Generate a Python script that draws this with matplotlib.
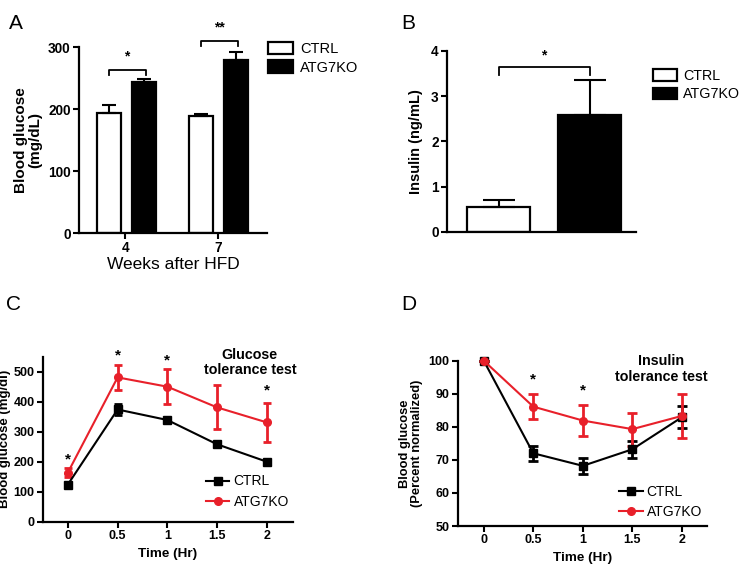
import numpy as np
import matplotlib
matplotlib.use("Agg")
import matplotlib.pyplot as plt
from matplotlib.lines import Line2D

plt.rcParams["font.family"] = ["Liberation Sans", "DejaVu Sans"]

# Panel A: blood glucose after HFD
weeks = ["4", "7"]
a_ctrl = [194, 189]
a_ctrl_err = [12, 4]
a_ko = [244, 279]
a_ko_err = [4, 13]
a_sig = ["*", "**"]
a_bracket_y = [264, 310]

# Panel B: insulin
b_vals = [0.56, 2.57]
b_err = [0.15, 0.78]
b_bracket_y = 3.63

# Panel C: glucose tolerance test
times = [0, 0.5, 1, 1.5, 2]
c_ctrl = [124, 374, 339, 258, 200]
c_ctrl_err = [5, 17, 5, 4, 3]
c_ko = [164, 481, 450, 381, 331]
c_ko_err = [14, 42, 58, 73, 65]
c_star_y = [209, 555, 539, None, 436]

# Panel D: insulin tolerance test
d_ctrl = [100, 72.0, 68.2, 73.2, 82.9]
d_ctrl_err = [0, 2.3, 2.4, 2.5, 3.4]
d_ko = [100, 86.1, 81.9, 79.3, 83.3]
d_ko_err = [0, 3.8, 4.6, 5.0, 6.7]
d_star_y = [None, 94.4, 91.1, None, None]

RED = "#e8202a"

fig = plt.figure(figsize=(7.43, 5.65), dpi=100)

def style(ax, tsize):
    for s in ["top", "right"]:
        ax.spines[s].set_visible(False)
    for s in ["left", "bottom"]:
        ax.spines[s].set_linewidth(1.6)
    ax.tick_params(direction="out", length=4, width=1.5, labelsize=tsize, pad=2)
    for lab in ax.get_xticklabels() + ax.get_yticklabels():
        lab.set_fontweight("bold")

def line_legend(ax, anchor):
    h = [Line2D([], [], color="black", marker="s", ms=6, lw=1.5),
         Line2D([], [], color=RED, marker="o", ms=5.5, lw=1.5)]
    ax.legend(h, ["CTRL", "ATG7KO"], loc="lower left", bbox_to_anchor=anchor,
              frameon=False, fontsize=10, handlelength=1.7, handletextpad=0.3,
              labelspacing=0.45, borderaxespad=0)

# ---- A ----
axA = fig.add_axes([0.1063, 0.5876, 0.253, 0.3287])
x = np.arange(len(weeks))
w = 0.26
axA.bar(x - 0.18, a_ctrl, w, color="white", edgecolor="black", linewidth=1.6,
        yerr=[[0, 0], a_ctrl_err], capsize=4.7, error_kw=dict(elinewidth=1.5, capthick=1.5),
        label="CTRL")
axA.bar(x + 0.20, a_ko, w, color="black", edgecolor="black", linewidth=1.6,
        yerr=[[0, 0], a_ko_err], capsize=4.7, error_kw=dict(elinewidth=1.5, capthick=1.5),
        label="ATG7KO")
for i in range(len(weeks)):
    x0, x1 = x[i] - 0.18, x[i] + 0.22
    yb = a_bracket_y[i]
    axA.plot([x0, x0, x1, x1], [yb - 8, yb, yb, yb - 8], color="black", lw=1.3, clip_on=False)
    axA.text((x0 + x1) / 2, yb + 10, a_sig[i], ha="center", va="bottom",
             fontsize=10, fontweight="bold")
axA.set_xlim(-0.5, 1.53)
axA.set_ylim(0, 300)
axA.set_yticks([0, 100, 200, 300])
axA.set_xticks(x)
axA.set_xticklabels(weeks)
axA.set_ylabel("Blood glucose\n(mg/dL)", fontsize=11, fontweight="bold", labelpad=4,
               linespacing=1.0)
axA.set_xlabel("Weeks after HFD", fontsize=12.5, labelpad=1)
style(axA, 9.8)
axA.legend(loc="upper left", bbox_to_anchor=(0.975, 1.06), frameon=False, fontsize=10.5,
           handlelength=1.7, handleheight=0.9, handletextpad=0.5, labelspacing=0.3,
           borderaxespad=0)
fig.text(0.012, 0.975, "A", fontsize=15, va="top")

# ---- B ----
axB = fig.add_axes([0.6016, 0.5894, 0.2544, 0.3209])
xb = np.arange(2)
axB.bar(xb[0], b_vals[0], 0.69, color="white", edgecolor="black", linewidth=1.6,
        yerr=[[0], [b_err[0]]], capsize=11.5, error_kw=dict(elinewidth=1.5, capthick=1.5),
        label="CTRL")
axB.bar(xb[1], b_vals[1], 0.69, color="black", edgecolor="black", linewidth=1.6,
        yerr=[[0], [b_err[1]]], capsize=11.5, error_kw=dict(elinewidth=1.5, capthick=1.5),
        label="ATG7KO")
axB.plot([0, 0, 1, 1], [b_bracket_y - 0.17, b_bracket_y, b_bracket_y, b_bracket_y - 0.17],
         color="black", lw=1.3)
axB.text(0.5, b_bracket_y + 0.12, "*", ha="center", va="bottom", fontsize=10, fontweight="bold")
axB.set_xlim(-0.566, 1.51)
axB.set_ylim(0, 4)
axB.set_yticks([0, 1, 2, 3, 4])
axB.set_xticks([])
axB.set_ylabel("Insulin (ng/mL)", fontsize=10.5, fontweight="bold", labelpad=6)
style(axB, 9.8)
axB.legend(loc="upper left", bbox_to_anchor=(1.06, 0.93), frameon=False, fontsize=10.3,
           handlelength=1.7, handleheight=0.9, handletextpad=0.4, labelspacing=0.3,
           borderaxespad=0)
fig.text(0.540, 0.975, "B", fontsize=15, va="top")

# ---- C ----
axC = fig.add_axes([0.0579, 0.0766, 0.336, 0.2921])
axC.errorbar(times, c_ctrl, yerr=c_ctrl_err, color="black", marker="s", ms=6, lw=1.5,
             elinewidth=2, capsize=3, capthick=2, clip_on=False)
axC.errorbar(times, c_ko, yerr=c_ko_err, color=RED, marker="o", ms=5.5, lw=1.5,
             elinewidth=2, capsize=3, capthick=2, clip_on=False)
for t, sy in zip(times, c_star_y):
    if sy is not None:
        axC.text(t, sy, "*", ha="center", va="center", fontsize=11, fontweight="bold")
axC.text(1.83, 530, "Glucose\ntolerance test", ha="center", va="center", fontsize=10.3,
         fontweight="bold", linespacing=1.1)
axC.set_xlim(-0.25, 2.26)
axC.set_ylim(0, 550)
axC.set_yticks([0, 100, 200, 300, 400, 500])
axC.set_xticks(times)
axC.set_xticklabels(["0", "0.5", "1", "1.5", "2"])
axC.set_ylabel("Blood glucose (mg/dl)", fontsize=9.5, fontweight="bold", labelpad=2)
axC.set_xlabel("Time (Hr)", fontsize=9.7, fontweight="bold", labelpad=4)
style(axC, 9)
line_legend(axC, (0.63, 0.045))
fig.text(0.008, 0.478, "C", fontsize=15, va="top")

# ---- D ----
axD = fig.add_axes([0.6164, 0.069, 0.3347, 0.2926])
axD.errorbar(times, d_ctrl, yerr=d_ctrl_err, color="black", marker="s", ms=6, lw=1.5,
             elinewidth=2, capsize=3.5, capthick=2, clip_on=False)
axD.errorbar(times, d_ko, yerr=d_ko_err, color=RED, marker="o", ms=5.5, lw=1.5,
             elinewidth=2, capsize=3.5, capthick=2, clip_on=False)
for t, sy in zip(times, d_star_y):
    if sy is not None:
        axD.text(t, sy, "*", ha="center", va="center", fontsize=11, fontweight="bold")
axD.text(1.79, 97.5, "Insulin\ntolerance test", ha="center", va="center", fontsize=10.3,
         fontweight="bold", linespacing=1.1)
axD.set_xlim(-0.26, 2.25)
axD.set_ylim(50, 100)
axD.set_yticks([50, 60, 70, 80, 90, 100])
axD.set_xticks(times)
axD.set_xticklabels(["0", "0.5", "1", "1.5", "2"])
axD.set_ylabel("Blood glucose\n(Percent normalized)", fontsize=9.3, fontweight="bold",
               labelpad=4, linespacing=1.0)
axD.set_xlabel("Time (Hr)", fontsize=9.7, fontweight="bold", labelpad=4)
style(axD, 9)
line_legend(axD, (0.625, 0.01))
fig.text(0.540, 0.478, "D", fontsize=15, va="top")

fig.savefig("out.png", dpi=100)
